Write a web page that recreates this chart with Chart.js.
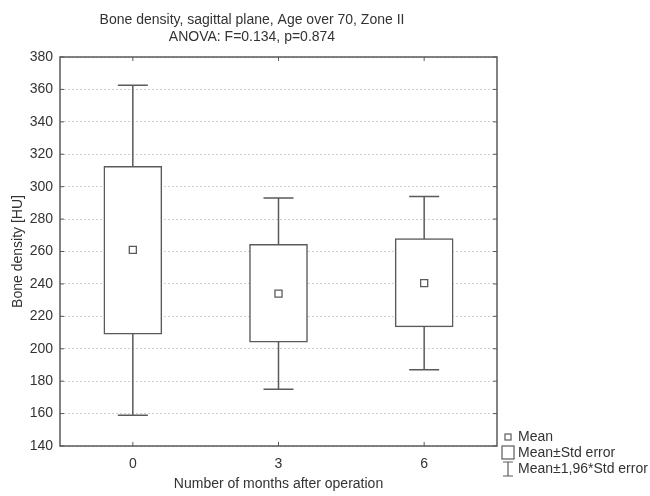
<!DOCTYPE html>
<html>
<head>
<meta charset="utf-8">
<script src="https://cdn.jsdelivr.net/npm/chart.js@4/dist/chart.umd.min.js"></script>
<style>
  body { margin: 0; background: #fff; }
  #wrap { width: 650px; height: 496px; }
</style>
</head>
<body>
<div id="wrap"><canvas id="chart" width="650" height="496"></canvas></div>
<script>
// values
const months = ['0', '3', '6'];
const means = [261, 234, 240.5];
const seLow = [209, 204, 213.5];
const seHigh = [312.5, 264.5, 268];
const ciLow = [159, 175, 187];
const ciHigh = [362.5, 293, 294];
const titleLines = ['Bone density, sagittal plane, Age over 70, Zone II', 'ANOVA: F=0.134, p=0.874'];
const legendLabels = ['Mean', 'Mean\u00b1Std error', 'Mean\u00b11,96*Std error'];

const lineColor = '#5a5a5a';
const textColor = '#333';
const fontFamily = '"Liberation Sans", Arial, sans-serif';

// whiskers, frame, inner ticks, title and legend
const extras = {
    id: 'extras',
    beforeDatasetsDraw(chart) {
        const ctx = chart.ctx;
        const x = chart.scales.x, y = chart.scales.y;
        ctx.save();
        ctx.strokeStyle = lineColor;
        ctx.lineWidth = 1.5;
        for (let i = 0; i < months.length; i++) {
            const px = x.getPixelForValue(i);
            const top = y.getPixelForValue(ciHigh[i]);
            const bot = y.getPixelForValue(ciLow[i]);
            ctx.beginPath();
            ctx.moveTo(px, top); ctx.lineTo(px, bot);
            ctx.moveTo(px - 15, top); ctx.lineTo(px + 15, top);
            ctx.moveTo(px - 15, bot); ctx.lineTo(px + 15, bot);
            ctx.stroke();
        }
        ctx.restore();
    },
    afterDraw(chart) {
        const ctx = chart.ctx;
        const a = chart.chartArea;
        const x = chart.scales.x, y = chart.scales.y;
        ctx.save();
        ctx.strokeStyle = lineColor;
        ctx.lineWidth = 1.5;
        ctx.strokeRect(a.left, a.top, a.right - a.left, a.bottom - a.top);
        ctx.lineWidth = 1;
        ctx.beginPath();
        y.ticks.forEach(t => {
            const py = y.getPixelForValue(t.value);
            ctx.moveTo(a.right, py); ctx.lineTo(a.right - 4, py);
            ctx.moveTo(a.left, py); ctx.lineTo(a.left + 4, py);
        });
        for (let i = 0; i < months.length; i++) {
            const px = x.getPixelForValue(i);
            ctx.moveTo(px, a.top); ctx.lineTo(px, a.top + 4);
            ctx.moveTo(px, a.bottom); ctx.lineTo(px, a.bottom - 4);
        }
        ctx.stroke();

        // title
        ctx.fillStyle = textColor;
        ctx.font = '14px ' + fontFamily;
        ctx.textAlign = 'center';
        ctx.textBaseline = 'middle';
        ctx.fillText(titleLines[0], 252, 20);
        ctx.fillText(titleLines[1], 252, 37);

        // legend
        const lx = 502;
        ctx.textAlign = 'left';
        ctx.font = '14px ' + fontFamily;
        ctx.fillText(legendLabels[0], 518, 437);
        ctx.fillText(legendLabels[1], 518, 453);
        ctx.fillText(legendLabels[2], 518, 469);
        ctx.strokeStyle = lineColor;
        ctx.lineWidth = 1.2;
        ctx.strokeRect(lx + 3, 434, 6, 6);
        ctx.strokeRect(lx, 446, 12, 13);
        ctx.beginPath();
        ctx.moveTo(lx + 6, 462); ctx.lineTo(lx + 6, 476);
        ctx.moveTo(lx + 1, 462); ctx.lineTo(lx + 11, 462);
        ctx.moveTo(lx + 1, 476); ctx.lineTo(lx + 11, 476);
        ctx.stroke();
        ctx.restore();
    }
};

new Chart(document.getElementById('chart'), {
    data: {
        labels: months,
        datasets: [{
            type: 'bar',
            label: legendLabels[1],
            data: months.map((m, i) => [seLow[i], seHigh[i]]),
            backgroundColor: '#fff',
            borderColor: lineColor,
            borderWidth: 1.5,
            borderSkipped: false,
            barThickness: 58,
            order: 2
        }, {
            type: 'line',
            label: legendLabels[0],
            data: means,
            showLine: false,
            pointStyle: 'rect',
            pointRadius: 5,
            pointBackgroundColor: '#fff',
            pointBorderColor: lineColor,
            pointBorderWidth: 1.3,
            order: 1
        }]
    },
    options: {
        responsive: false,
        animation: false,
        layout: { padding: { top: 57, right: 153, left: 0, bottom: 0 } },
        plugins: {
            legend: { display: false },
            title: { display: false },
            tooltip: { enabled: false }
        },
        scales: {
            x: {
                type: 'category',
                offset: true,
                grid: { display: false, drawTicks: false },
                border: { display: false },
                ticks: { color: textColor, font: { size: 14, family: fontFamily }, padding: 10 },
                title: {
                    display: true,
                    text: 'Number of months after operation',
                    color: textColor,
                    font: { size: 14, family: fontFamily },
                    padding: { top: 4, bottom: 3 }
                },
                afterFit(scale) { scale.height = 50; }
            },
            y: {
                min: 140,
                max: 380,
                ticks: { stepSize: 20, color: textColor, font: { size: 14, family: fontFamily }, padding: 7 },
                grid: { color: '#cfcfcf', drawTicks: false, lineWidth: 1 },
                border: { display: false, dash: [2, 2] },
                title: {
                    display: true,
                    text: 'Bone density [HU]',
                    color: textColor,
                    font: { size: 14, family: fontFamily },
                    padding: { top: 10, bottom: 4 }
                },
                afterFit(scale) { scale.width = 60; }
            }
        }
    },
    plugins: [extras]
});
</script>
</body>
</html>
